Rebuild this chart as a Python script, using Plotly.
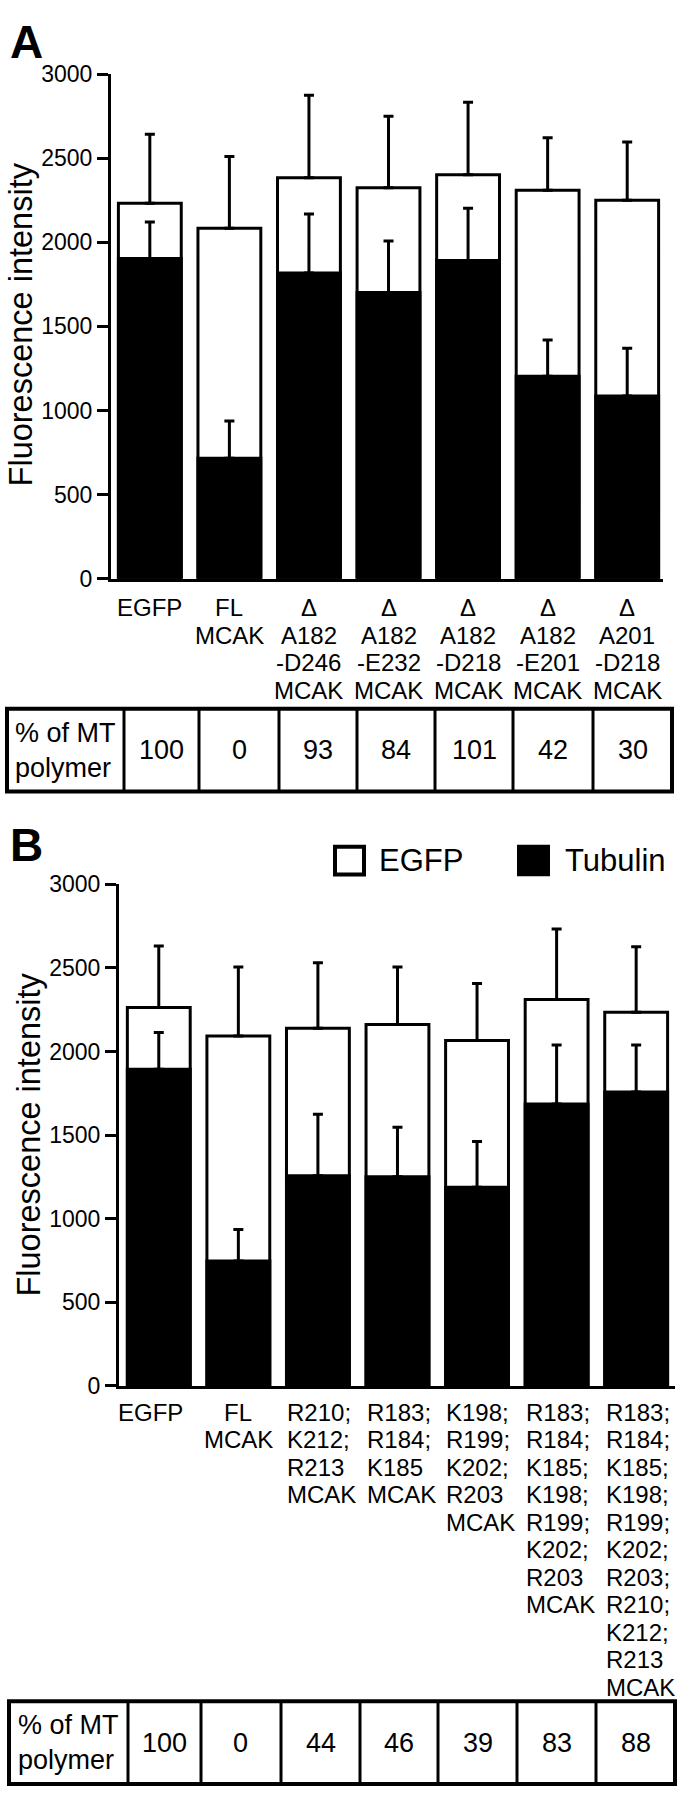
import plotly.graph_objects as go

# ---------------- data ----------------
labels_a = [["EGFP"], ["FL", "MCAK"], ["Δ", "A182", "-D246", "MCAK"], ["Δ", "A182", "-E232", "MCAK"],
            ["Δ", "A182", "-D218", "MCAK"], ["Δ", "A182", "-E201", "MCAK"], ["Δ", "A201", "-D218", "MCAK"]]
egfp_a = [2232, 2084, 2384, 2324, 2402, 2310, 2250]
egfp_a_err = [410, 426, 491, 425, 430, 311, 347]
tub_a = [1903, 716, 1818, 1701, 1892, 1204, 1086]
tub_a_err = [217, 222, 351, 307, 311, 215, 284]
pct_a = [100, 0, 93, 84, 101, 42, 30]

labels_b = [["EGFP"], ["FL", "MCAK"], ["R210;", "K212;", "R213", "MCAK"], ["R183;", "R184;", "K185", "MCAK"],
            ["K198;", "R199;", "K202;", "R203", "MCAK"],
            ["R183;", "R184;", "K185;", "K198;", "R199;", "K202;", "R203", "MCAK"],
            ["R183;", "R184;", "K185;", "K198;", "R199;", "K202;", "R203;", "R210;", "K212;", "R213", "MCAK"]]
egfp_b = [2263, 2092, 2138, 2161, 2065, 2311, 2234]
egfp_b_err = [367, 413, 392, 344, 342, 422, 392]
tub_b = [1893, 747, 1257, 1250, 1188, 1685, 1758]
tub_b_err = [220, 188, 367, 297, 273, 353, 280]
pct_b = [100, 0, 44, 46, 39, 83, 88]

y_ticks = [0, 500, 1000, 1500, 2000, 2500, 3000]
table_row_label = "% of MT<br>polymer"
legend_names = ["EGFP", "Tubulin"]

# ---------------- layout helpers ----------------
W, H = 691, 1800
FONT = "Liberation Sans, Arial, Helvetica, sans-serif"


def px(x):
    return x / W


def py(y):
    return 1 - y / H


fig = go.Figure()

panels = [
    dict(xa="x", ya="y", labels=labels_a, egfp=egfp_a, egfp_err=egfp_a_err, tub=tub_a, tub_err=tub_a_err,
         pct=pct_a, xdom=(111, 663), ydom=(62, 574), xr=[-0.488, 6.45],
         letter="A", letter_xy=(8, 29), title_xy=(21, 316),
         row0=28.5, row_step=27.8,
         table=dict(top=706, bottom=790, left=7, edges=[124, 199, 279, 357, 435, 513, 593, 672], text_x=13),
         anchors=["c"] * 7, xshift=[0] * 7),
    dict(xa="x2", ya="y2", labels=labels_b, egfp=egfp_b, egfp_err=egfp_b_err, tub=tub_b, tub_err=tub_b_err,
         pct=pct_b, xdom=(119, 675), ydom=(884, 1393), xr=[-0.5, 6.488],
         letter="B", letter_xy=(8, 844), title_xy=(29, 1138),
         row0=26.5, row_step=27.5,
         table=dict(top=1713, bottom=1797, left=9, edges=[128, 201, 281, 360, 438, 517, 596, 675], text_x=16),
         anchors=["c", "c", "l", "l", "l", "l", "l"], xshift=[-8, 0, 0, 0, 0, 0, 0]),
]

annotations = []
shapes = []

for p in panels:
    xs = list(range(len(p["egfp"])))
    fig.add_trace(go.Bar(
        x=xs, y=p["egfp"], width=0.79, xaxis=p["xa"], yaxis=p["ya"], name=legend_names[0], showlegend=False,
        marker=dict(color="white", line=dict(color="black", width=3)),
        error_y=dict(type="data", symmetric=False, array=p["egfp_err"], arrayminus=[0] * len(xs),
                     color="black", thickness=3, width=5)))
    fig.add_trace(go.Bar(
        x=xs, y=p["tub"], width=0.79, xaxis=p["xa"], yaxis=p["ya"], name=legend_names[1], showlegend=False,
        marker=dict(color="black", line=dict(color="black", width=3)),
        error_y=dict(type="data", symmetric=False, array=p["tub_err"], arrayminus=[0] * len(xs),
                     color="black", thickness=3, width=5)))

    # x category labels (one annotation per line for tight spacing)
    for k, lines in enumerate(p["labels"]):
        for j, line in enumerate(lines):
            if p["anchors"][k] == "c":
                ax, xanc = k, "center"
            else:
                ax, xanc = k - 0.41, "left"
            annotations.append(dict(
                x=ax, y=0, xref=p["xa"], yref=p["ya"] + " domain", text=line, showarrow=False,
                xanchor=xanc, yanchor="middle", yshift=-(p["row0"] + p["row_step"] * j), xshift=p["xshift"][k],
                font=dict(family=FONT, size=24, color="black")))

    # panel letter (centred on its cap height)
    annotations.append(dict(x=px(p["letter_xy"][0]), y=py(p["letter_xy"][1]), xref="paper", yref="paper",
                            text="<b>%s</b>" % p["letter"], showarrow=False, xanchor="left", yanchor="middle",
                            font=dict(family=FONT, size=46, color="black")))
    # y title
    annotations.append(dict(x=px(p["title_xy"][0]), y=py(p["title_xy"][1]), xref="paper", yref="paper",
                            text="Fluorescence intensity", textangle=-90, showarrow=False,
                            xanchor="center", yanchor="middle",
                            font=dict(family=FONT, size=32.5, color="black")))

    # table
    t = p["table"]
    shapes.append(dict(type="rect", xref="paper", yref="paper", x0=px(t["left"]), x1=px(t["edges"][-1]),
                       y0=py(t["bottom"]), y1=py(t["top"]), line=dict(color="black", width=4)))
    for e in t["edges"][:-1]:
        shapes.append(dict(type="line", xref="paper", yref="paper", x0=px(e), x1=px(e),
                           y0=py(t["bottom"]), y1=py(t["top"]), line=dict(color="black", width=3)))
    ymid = (t["top"] + t["bottom"]) / 2
    annotations.append(dict(x=px(t["text_x"]), y=py(ymid), xref="paper", yref="paper", text=table_row_label,
                            showarrow=False, xanchor="left", yanchor="middle", align="left",
                            font=dict(family=FONT, size=27, color="black")))
    for k, v in enumerate(p["pct"]):
        cx = (t["edges"][k] + t["edges"][k + 1]) / 2
        annotations.append(dict(x=px(cx), y=py(ymid), xref="paper", yref="paper", text=str(v),
                                showarrow=False, xanchor="center", yanchor="middle",
                                font=dict(family=FONT, size=27, color="black")))

# legend (panel B)
shapes.append(dict(type="rect", xref="paper", yref="paper", x0=px(335), x1=px(364), y0=py(874), y1=py(846),
                   line=dict(color="black", width=4), fillcolor="white"))
shapes.append(dict(type="rect", xref="paper", yref="paper", x0=px(517), x1=px(550), y0=py(876), y1=py(844),
                   line=dict(color="black", width=0), fillcolor="black"))
annotations.append(dict(x=px(377), y=py(860), xref="paper", yref="paper", text=legend_names[0], showarrow=False,
                        xanchor="left", yanchor="middle", font=dict(family=FONT, size=31, color="black")))
annotations.append(dict(x=px(563), y=py(860), xref="paper", yref="paper", text=legend_names[1], showarrow=False,
                        xanchor="left", yanchor="middle", font=dict(family=FONT, size=31, color="black")))

axis_common_x = dict(showline=True, linewidth=3, linecolor="black", ticks="", showticklabels=False,
                     showgrid=False, zeroline=False, fixedrange=True)
axis_common_y = dict(showline=True, linewidth=3, linecolor="black", ticks="outside", ticklen=11, tickwidth=3,
                     tickcolor="black", tickvals=y_ticks, ticktext=[str(v) for v in y_ticks], range=[0, 3000],
                     showgrid=False, zeroline=False, fixedrange=True,
                     tickfont=dict(family=FONT, size=23, color="black"))

pa, pb = panels
fig.update_layout(
    width=W, height=H, autosize=False,
    margin=dict(l=0, r=0, t=0, b=0),
    paper_bgcolor="white", plot_bgcolor="white",
    barmode="overlay", showlegend=False,
    xaxis=dict(axis_common_x, domain=[px(pa["xdom"][0]), px(pa["xdom"][1])], range=pa["xr"], anchor="y"),
    yaxis=dict(axis_common_y, domain=[py(pa["ydom"][1]), py(pa["ydom"][0])], anchor="x"),
    xaxis2=dict(axis_common_x, domain=[px(pb["xdom"][0]), px(pb["xdom"][1])], range=pb["xr"], anchor="y2"),
    yaxis2=dict(axis_common_y, domain=[py(pb["ydom"][1]), py(pb["ydom"][0])], anchor="x2"),
    annotations=annotations,
    shapes=shapes,
)

fig.write_html("out.html", config={"displayModeBar": False},
               post_script="document.body.style.margin='0';")
